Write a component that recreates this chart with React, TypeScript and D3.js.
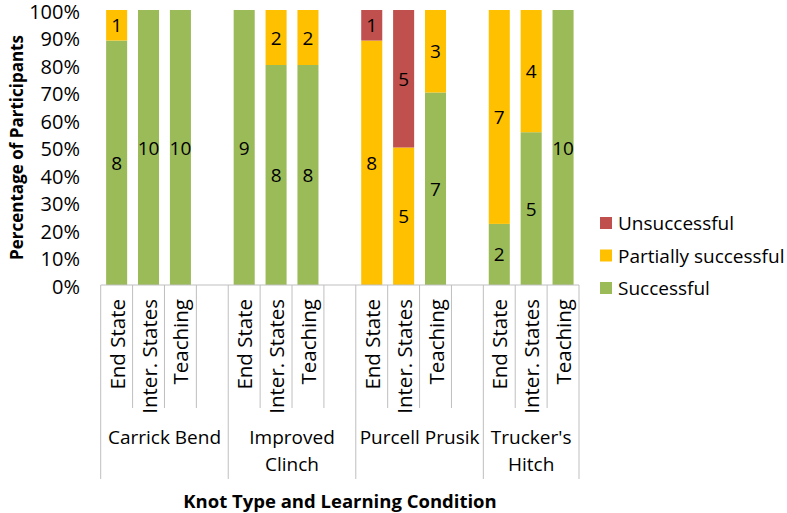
import React from "react";
import * as d3 from "d3";

const groups = ["Carrick Bend", "Improved Clinch", "Purcell Prusik", "Trucker's Hitch"];
const groupLabelLines = [["Carrick Bend"], ["Improved", "Clinch"], ["Purcell Prusik"], ["Trucker's", "Hitch"]];
const conditions = ["End State", "Inter. States", "Teaching"];
const successful = [8, 10, 10, 9, 8, 8, 0, 0, 7, 2, 5, 10];
const partial = [1, 0, 0, 0, 2, 2, 8, 5, 3, 7, 4, 0];
const unsuccessful = [0, 0, 0, 0, 0, 0, 1, 5, 0, 0, 0, 0];
const seriesNames = ["Successful", "Partially successful", "Unsuccessful"];
const seriesColors = ["#9BBB59", "#FFC000", "#C0504D"];
const yTicks = [0, 10, 20, 30, 40, 50, 60, 70, 80, 90, 100];

const W = 787, H = 513;
const FONT = "'Open Sans', sans-serif";
const left = 100.7, right = 579, top = 10, bottom = 285;

export default function App() {
  const slots: string[] = [];
  groups.forEach((g, gi) => {
    conditions.forEach((c) => slots.push(`${g}|${c}`));
    if (gi < groups.length - 1) slots.push(`${g}|blank`);
  });
  const x = d3.scaleBand<string>().domain(slots).range([left, right]).padding(0);
  const y = d3.scaleLinear().domain([0, 100]).range([bottom, top]);
  const bw = x.bandwidth();
  const barW = bw * 0.66;

  const rows = groups.flatMap((g, gi) =>
    conditions.map((c, ci) => {
      const i = gi * 3 + ci;
      const vals = [successful[i], partial[i], unsuccessful[i]];
      return { key: `${g}|${c}`, cond: c, vals };
    })
  );

  const labelY = bottom + 14;
  const innerTickEnd = 408;
  const groupTickEnd = 479;

  return (
    <svg width={W} height={H} style={{ position: "absolute", left: 0, top: 0, background: "#fff" }} fontFamily={FONT}>
      <rect width={W} height={H} fill="#fff" />
      {rows.map((r) => {
        const total = d3.sum(r.vals);
        let cum = 0;
        const x0 = (x(r.key) as number) + (bw - barW) / 2;
        return (
          <g key={r.key}>
            {r.vals.map((v, si) => {
              if (v === 0) return null;
              const p0 = (cum / total) * 100;
              cum += v;
              const p1 = (cum / total) * 100;
              const yTop = y(p1), yBot = y(p0);
              return (
                <g key={si}>
                  <rect x={x0} y={yTop} width={barW} height={yBot - yTop} fill={seriesColors[si]} />
                  <text x={x0 + barW / 2} y={(yTop + yBot) / 2} textAnchor="middle" dominantBaseline="central" fontSize={19} fill="#000">
                    {v}
                  </text>
                </g>
              );
            })}
          </g>
        );
      })}
      <line x1={left} x2={right} y1={bottom} y2={bottom} stroke="#BFBFBF" strokeWidth={1.2} />
      {yTicks.map((t) => (
        <text key={t} x={80} y={y(t) + 1} textAnchor="end" dominantBaseline="central" fontSize={20} fill="#000">
          {t}%
        </text>
      ))}
      {slots.map((s, i) => {
        const xx = x(s) as number;
        const isGroup = i % 4 === 0;
        return <line key={s} x1={xx} x2={xx} y1={bottom} y2={isGroup ? groupTickEnd : innerTickEnd} stroke="#BFBFBF" strokeWidth={1} />;
      })}
      <line x1={right} x2={right} y1={bottom} y2={groupTickEnd} stroke="#BFBFBF" strokeWidth={1} />
      {rows.map((r) => {
        const cx = (x(r.key) as number) + bw / 2;
        return (
          <text key={r.key} transform={`translate(${cx},${labelY}) rotate(-90)`} textAnchor="end" dominantBaseline="central" fontSize={20.5} fill="#000">
            {r.cond}
          </text>
        );
      })}
      {groups.map((g, gi) => {
        const x0 = x(`${g}|${conditions[0]}`) as number;
        const cx = (x0 + Math.min(x0 + bw * 4, right)) / 2;
        const lines = groupLabelLines[gi];
        return (
          <text key={g} x={cx} y={437} textAnchor="middle" fontSize={19} fill="#000" dominantBaseline="central">
            {lines.map((l, li) => (
              <tspan key={li} x={cx} dy={li === 0 ? 0 : 27}>
                {l}
              </tspan>
            ))}
          </text>
        );
      })}
      <text x={340} y={500} textAnchor="middle" dominantBaseline="central" fontSize={18.5} fontWeight="bold" fill="#000">
        Knot Type and Learning Condition
      </text>
      <text transform={`translate(16,147.5) rotate(-90)`} textAnchor="middle" dominantBaseline="central" fontSize={17} fontWeight="bold" fill="#000">
        Percentage of Participants
      </text>
      {[2, 1, 0].map((si, li) => {
        const ly = 223 + li * 32.5;
        return (
          <g key={si}>
            <rect x={600} y={ly - 6} width={12} height={12} fill={seriesColors[si]} />
            <text x={618} y={ly} dominantBaseline="central" fontSize={19} fill="#000">
              {seriesNames[si]}
            </text>
          </g>
        );
      })}
    </svg>
  );
}
